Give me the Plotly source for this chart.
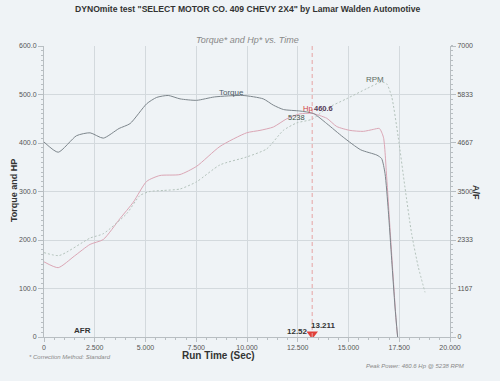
import plotly.graph_objects as go

# ---- data ----
torque_time = [0, 0.7, 1.6, 2.27, 2.92, 3.7, 4.24, 5.06, 5.55, 6.12, 6.7, 7.52, 8.4, 9.8,
               10.8, 11.3, 11.8, 12.6, 13.27, 13.93, 14.74, 15.6, 16.4, 16.63, 16.8,
               16.96, 17.13, 17.29, 17.42]
torque = [402, 381, 415, 421, 410, 430, 440, 481, 494, 498, 491, 488, 495, 498,
          491, 478, 469, 466, 461, 440, 412, 386, 375, 368, 337,
          261, 158, 62, 0]

hp_time = [0, 0.7, 1.5, 2.27, 2.92, 3.74, 4.4, 5.06, 5.71, 6.7, 7.52, 8.67, 9.98, 10.64,
           11.3, 11.96, 12.6, 13.2, 13.93, 14.42, 15.07, 15.73, 16.22, 16.52, 16.72,
           16.88, 17.04, 17.2, 17.37, 17.42]
hp = [155, 143, 167, 191, 201, 244, 278, 321, 333, 335, 352, 393, 421, 426,
      433, 450, 460, 461, 451, 434, 426, 424, 428, 430, 412,
      330, 227, 124, 21, 0]

rpm_time = [0, 0.75, 2.27, 2.92, 4.07, 4.73, 5.22, 5.88, 6.7, 7.52, 8.67, 9.98, 10.97,
            11.79, 12.45, 13.2, 13.93, 14.9, 15.9, 16.63, 16.88, 17.13, 17.45, 17.78,
            18.11, 18.44, 18.77]
rpm = [2030, 1960, 2380, 2485, 2965, 3405, 3500, 3525, 3560, 3735, 4140, 4330, 4525,
       4970, 5150, 5238, 5500, 5730, 5975, 6135, 6090, 5775, 4805, 3605,
       2485, 1680, 1075]

x_tickvals = [0, 2.5, 5, 7.5, 10, 12.5, 15, 17.5, 20]
x_ticktext = ["0", "2.500", "5.000", "7.500", "10.000", "12.500", "15.000", "17.500", "20.000"]
y_tickvals = [0, 100, 200, 300, 400, 500, 600]
y_ticktext = ["0", "100.0", "200.0", "300.0", "400.0", "500.0", "600.0"]
y2_tickvals = [0, 1167, 2333, 3500, 4667, 5833, 7000]
y2_ticktext = ["0", "1167", "2333", "3500", "4667", "5833", "7000"]

cursor_time = 13.211
bg = "#eff3f6"

fig = go.Figure()
fig.add_trace(go.Scatter(x=rpm_time, y=rpm, yaxis="y2", mode="lines",
                         line=dict(color="#b4c3bc", width=1, dash="2px,2px", shape="spline", smoothing=0.6),
                         hoverinfo="skip", showlegend=False))
fig.add_trace(go.Scatter(x=hp_time, y=hp, mode="lines",
                         line=dict(color="#dba6b5", width=1, shape="spline", smoothing=0.6),
                         hoverinfo="skip", showlegend=False))
fig.add_trace(go.Scatter(x=torque_time, y=torque, mode="lines",
                         line=dict(color="#7d868c", width=1, shape="spline", smoothing=0.6),
                         hoverinfo="skip", showlegend=False))
fig.add_trace(go.Scatter(x=[cursor_time], y=[6], mode="markers",
                         marker=dict(symbol="triangle-down", size=10, color="#e0403a"),
                         hoverinfo="skip", showlegend=False))

fig.add_shape(type="line", x0=cursor_time, x1=cursor_time, y0=0, y1=600, xref="x", yref="y",
              line=dict(color="#e6a4a4", width=1, dash="4px,3px"))

tickfont = dict(family="Liberation Sans, Arial", size=7, color="#555")
fig.update_layout(
    width=500, height=381,
    margin=dict(l=44, r=50, t=46, b=44),
    paper_bgcolor=bg, plot_bgcolor=bg,
    xaxis=dict(range=[0, 20], tickvals=x_tickvals, ticktext=x_ticktext, tickfont=tickfont,
               showgrid=True, gridcolor="#d3d9dd", gridwidth=1, zeroline=False,
               showline=True, linecolor="#b8bec2", ticks="outside", ticklen=4, tickcolor="#b8bec2",
               minor=dict(dtick=0.5, ticklen=2, tickcolor="#b8bec2", ticks="outside", showgrid=False)),
    yaxis=dict(range=[0, 600], tickvals=y_tickvals, ticktext=y_ticktext, tickfont=tickfont,
               showgrid=True, gridcolor="#d3d9dd", gridwidth=1, zeroline=False,
               showline=True, linecolor="#b8bec2", ticks="outside", ticklen=5, tickcolor="#b8bec2",
               minor=dict(dtick=10, ticklen=2, tickcolor="#b8bec2", ticks="outside", showgrid=False)),
    yaxis2=dict(range=[0, 7000], overlaying="y", side="right", tickvals=y2_tickvals,
                ticktext=y2_ticktext, tickfont=tickfont, showgrid=False, zeroline=False,
                showline=True, linecolor="#b8bec2", ticks="outside", ticklen=5, tickcolor="#b8bec2",
                minor=dict(dtick=116.67, ticklen=2, tickcolor="#b8bec2", ticks="outside", showgrid=False)),
)

F = "Liberation Sans, Arial"
ann = [
    dict(text="<b>DYNOmite test \"SELECT MOTOR CO. 409 CHEVY 2X4\" by Lamar Walden Automotive</b>",
         xref="paper", yref="paper", x=0.502, y=1.127, font=dict(family=F, size=8.6, color="#333")),
    dict(text="<i>Torque* and Hp* vs. Time</i>", xref="paper", yref="paper", x=0.502, y=1.021,
         font=dict(family=F, size=9, color="#888")),
    dict(text="<b>Run Time (Sec)</b>", xref="paper", yref="paper", x=0.4286, y=-0.062,
         font=dict(family=F, size=10, color="#333")),
    dict(text="<i>* Correction Method: Standard</i>", xref="paper", yref="paper", x=0.064, y=-0.069,
         font=dict(family=F, size=6, color="#888")),
    dict(text="<i>Peak Power: 460.6 Hp @ 5238 RPM</i>", xref="paper", yref="paper", x=0.914, y=-0.1,
         font=dict(family=F, size=6, color="#888")),
    dict(text="<b>Torque and HP</b>", xref="paper", yref="paper", x=-0.074, y=0.505, textangle=-90,
         font=dict(family=F, size=9, color="#333")),
    dict(text="<b>A/F</b>", xref="paper", yref="paper", x=1.064, y=0.495, textangle=90,
         font=dict(family=F, size=9, color="#333")),
    dict(text="<b>AFR</b>", xref="paper", yref="paper", x=0.096, y=0.021,
         font=dict(family=F, size=8, color="#333")),
    dict(text="Torque", x=9.26, y=504, font=dict(family=F, size=8, color="#4d5c68")),
    dict(text="RPM", x=16.3, y=531, font=dict(family=F, size=8, color="#5e6e64")),
    dict(text="Hp", x=13.0, y=472, font=dict(family=F, size=7.5, color="#d04040")),
    dict(text="<b>460.6</b>", x=13.78, y=472, font=dict(family=F, size=7.5, color="#563a58")),
    dict(text="5238", x=12.45, y=453, font=dict(family=F, size=7.5, color="#425248")),
    dict(text="<b>12.52</b>", x=12.5, y=12, font=dict(family=F, size=8, color="#333")),
    dict(text="<b>13.211</b>", x=13.75, y=24, font=dict(family=F, size=8, color="#333")),
]
for a in ann:
    a.setdefault("xref", "x")
    a.setdefault("yref", "y")
    a["showarrow"] = False
    a["xanchor"] = "center"
    a["yanchor"] = "middle"
    fig.add_annotation(**a)

fig.write_html("out.html", config={"displayModeBar": False},
               post_script="document.body.style.margin='0';document.body.style.background='%s';" % bg)
